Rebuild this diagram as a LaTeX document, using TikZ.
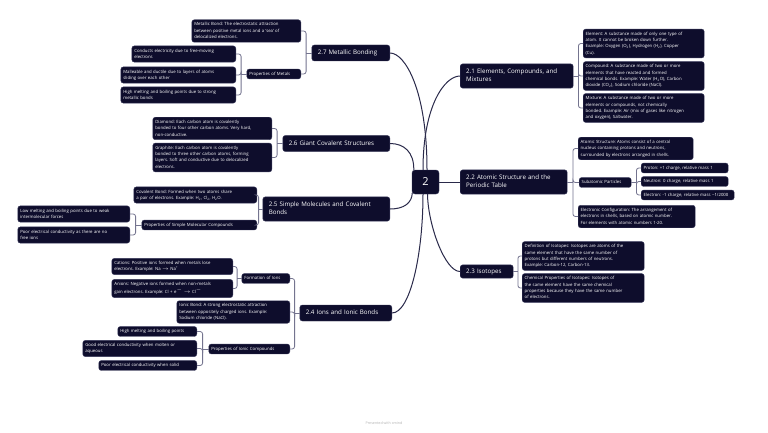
\documentclass[tikz,border=0pt]{standalone}
\usepackage{fontspec}
\setmainfont{Open Sans}
\usetikzlibrary{calc}
\definecolor{nodebg}{HTML}{0E0D2C}
\definecolor{nodeedge}{HTML}{3A3A5C}
\definecolor{mainline}{HTML}{2A2A4A}
\definecolor{brline}{HTML}{74748F}
\frenchspacing
\begin{document}
\begin{tikzpicture}[x=1pt,y=-1pt,
  box/.style={fill=nodebg, draw=nodeedge, line width=0.4pt, rounded corners=2.5pt, text=white, align=left},
  leaf/.style={box, font=\fontsize{4.3}{6.3}\selectfont\frenchspacing, inner xsep=2.5pt, inner ysep=1.8pt, text width=#1,
    execute at begin node=\strut, execute at end node=\strut},
  topic/.style={box, font=\fontsize{6.2}{8.3}\selectfont\frenchspacing, inner xsep=6pt, inner ysep=3.85pt, text width=#1,
    execute at begin node=\strut, execute at end node=\strut},
  ml/.style={draw=mainline, line width=1pt},
  br/.style={draw=brline, line width=0.8pt, rounded corners=2.5pt}
]
\useasboundingbox (0,0) rectangle (768,433);
\fill[white] (0,0) rectangle (768,433);

% center
\node[box, font=\fontsize{11}{13}\selectfont, minimum width=27pt, minimum height=24pt, rounded corners=3pt, align=center, inner sep=0pt] (c) at (425.5,182) {2};

% ---------- left side ----------
\node[topic=66pt, anchor=east] (m27) at (390,53) {2.7 Metallic Bonding};
\node[leaf=104pt, anchor=east] (lmb) at (301,31) {Metallic Bond: The electrostatic attraction\\between positive metal ions and a `sea' of\\delocalized electrons.};
\node[leaf=49pt, anchor=east] (spm) at (301,74) {Properties of Metals};
\node[leaf=99pt, anchor=east] (lce) at (236,54) {Conducts electricity due to free-moving\\electrons};
\node[leaf=110pt, anchor=east] (lma) at (236,75) {Malleable and ductile due to layers of atoms\\sliding over each other};
\node[leaf=110pt, anchor=east] (lhm) at (236,95) {High melting and boiling points due to strong\\metallic bonds};

\node[topic=95pt, anchor=east] (m26) at (390,143.5) {2.6 Giant Covalent Structures};
\node[leaf=114pt, anchor=east] (ldi) at (272,128.5) {Diamond: Each carbon atom is covalently\\bonded to four other carbon atoms. Very hard,\\non-conductive.};
\node[leaf=114pt, anchor=east] (lgr) at (272,157.5) {Graphite: Each carbon atom is covalently\\bonded to three other carbon atoms, forming\\layers. Soft and conductive due to delocalized\\electrons.};

\node[topic=115pt, anchor=east] (m25) at (390,209) {2.5 Simple Molecules and Covalent\\Bonds};
\node[leaf=118pt, anchor=east] (lcb) at (257,195) {Covalent Bond: Formed when two atoms share\\a pair of electrons. Example: H\textsubscript{2}, Cl\textsubscript{2}, H\textsubscript{2}O.};
\node[leaf=110pt, anchor=east] (spsm) at (257,225) {Properties of Simple Molecular Compounds};
\node[leaf=107pt, anchor=east] (llm) at (130,214) {Low melting and boiling points due to weak\\intermolecular forces};
\node[leaf=107pt, anchor=east] (lpe) at (130,235) {Poor electrical conductivity as there are no\\free ions};

\node[topic=80pt, anchor=east] (m24) at (392,313) {2.4 Ions and Ionic Bonds};
\node[leaf=43pt, anchor=east] (sfi) at (290,278.5) {Formation of Ions};
\node[leaf=116pt, anchor=east] (lca) at (233,266.5) {Cations: Positive ions formed when metals lose\\electrons. Example: Na $\rightarrow$ Na\textsuperscript{+}};
\node[leaf=116pt, anchor=east] (lan) at (233,288.5) {Anions: Negative ions formed when non-metals\\gain electrons. Example: Cl + e\textsuperscript{$-$} $\rightarrow$ Cl\textsuperscript{$-$}};
\node[leaf=108pt, anchor=east] (lib) at (290,312) {Ionic Bond: A strong electrostatic attraction\\between oppositely charged ions. Example:\\Sodium chloride (NaCl).};
\node[leaf=76pt, anchor=east] (spic) at (290,349) {Properties of Ionic Compounds};
\node[leaf=74pt, anchor=east] (lhmb) at (197,331.5) {High melting and boiling points};
\node[leaf=109pt, anchor=east] (lgec) at (197,348.5) {Good electrical conductivity when molten or\\aqueous};
\node[leaf=93pt, anchor=east] (lpes) at (197,365.5) {Poor electrical conductivity when solid};

% ---------- right side ----------
\node[topic=101pt, anchor=west] (m21) at (460,76) {2.1 Elements, Compounds, and\\Mixtures};
\node[leaf=116pt, anchor=west] (lel) at (583,43.5) {Element: A substance made of only one type of\\atom. It cannot be broken down further.\\Example: Oxygen (O\textsubscript{2}), Hydrogen (H\textsubscript{2}), Copper\\(Cu).};
\node[leaf=116pt, anchor=west] (lco) at (583,76) {Compound: A substance made of two or more\\elements that have reacted and formed\\chemical bonds. Example: Water (H\textsubscript{2}O), Carbon\\dioxide (CO\textsubscript{2}), Sodium chloride (NaCl).};
\node[leaf=116pt, anchor=west] (lmi) at (583,108) {Mixture: A substance made of two or more\\elements or compounds, not chemically\\bonded. Example: Air (mix of gases like nitrogen\\and oxygen), Saltwater.};

\node[topic=95pt, anchor=west] (m22) at (460,182) {2.2 Atomic Structure and the\\Periodic Table};
\node[leaf=110pt, anchor=west] (las) at (578,148.5) {Atomic Structure: Atoms consist of a central\\nucleus containing protons and neutrons,\\surrounded by electrons arranged in shells.};
\node[leaf=47pt, anchor=west] (ssp) at (579,182.5) {Subatomic Particles};
\node[leaf=82pt, anchor=west] (lpr) at (641,168) {Proton: +1 charge, relative mass 1};
\node[leaf=82pt, anchor=west] (lne) at (641,181.5) {Neutron: 0 charge, relative mass 1};
\node[leaf=88pt, anchor=west] (lelc) at (641,195) {\mbox{Electron: -1 charge, relative mass \textasciitilde1/2000}};
\node[leaf=112pt, anchor=west] (lec) at (578,216.5) {Electronic Configuration: The arrangement of\\electrons in shells, based on atomic number.\\For elements with atomic numbers 1-20.};

\node[topic=41pt, anchor=west, inner ysep=2.5pt] (m23) at (460,271.5) {2.3 Isotopes};
\node[leaf=117pt, anchor=west] (ldf) at (522,256) {Definition of Isotopes: Isotopes are atoms of the\\same element that have the same number of\\protons but different numbers of neutrons.\\Example: Carbon-12, Carbon-13.};
\node[leaf=117pt, anchor=west] (lcp) at (522,288) {Chemical Properties of Isotopes: Isotopes of\\the same element have the same chemical\\properties because they have the same number\\of electrons.};

% ---------- main connectors ----------
\draw[ml] (m27.east) .. controls (405,53) and (427,90) .. ($(c.north)+(1.5,0)$);
\draw[ml] (m21.west) .. controls (445,76) and (423,105) .. ($(c.north)+(-2.5,0)$);
\draw[ml] (m26.east) .. controls (404,143.5) and (414,152) .. ($(c.north west)+(2,0)$);
\draw[ml] (m25.east) .. controls (404,209) and (412,203) .. ($(c.south west)+(0.5,-1.5)$);
\draw[ml] (m24.east) .. controls (410,313) and (423,255) .. ($(c.south)+(-2.5,0)$);
\draw[ml] (m23.west) .. controls (445,271.5) and (428,225) .. ($(c.south)+(2,0)$);
\draw[ml] (c.east) -- (m22.west);

% ---------- brackets ----------
\draw[br] (m27.west) -- ++(-5.5,0) coordinate (b27);
\foreach \n in {lmb,spm} \draw[br] (b27) |- (\n.east);
\draw[br] (spm.west) -- ++(-5.5,0) coordinate (bpm);
\foreach \n in {lce,lma,lhm} \draw[br] (bpm) |- (\n.east);
\draw[br] (m26.west) -- ++(-5.5,0) coordinate (b26);
\foreach \n in {ldi,lgr} \draw[br] (b26) |- (\n.east);
\draw[br] (m25.west) -- ++(-4,0) coordinate (b25);
\foreach \n in {lcb,spsm} \draw[br] (b25) |- (\n.east);
\draw[br] (spsm.west) -- ++(-6,0) coordinate (bsm);
\foreach \n in {llm,lpe} \draw[br] (bsm) |- (\n.east);
\draw[br] (m24.west) -- ++(-5,0) coordinate (b24);
\foreach \n in {sfi,lib,spic} \draw[br] (b24) |- (\n.east);
\draw[br] (sfi.west) -- ++(-4.5,0) coordinate (bfi);
\foreach \n in {lca,lan} \draw[br] (bfi) |- (\n.east);
\draw[br] (spic.west) -- ++(-6,0) coordinate (bic);
\foreach \n in {lhmb,lgec,lpes} \draw[br] (bic) |- (\n.east);

\draw[br] (m21.east) -- ++(5,0) coordinate (b21);
\foreach \n in {lel,lco,lmi} \draw[br] (b21) |- (\n.west);
\draw[br] (m22.east) -- ++(5.5,0) coordinate (b22);
\foreach \n in {las,ssp,lec} \draw[br] (b22) |- (\n.west);
\draw[br] (ssp.east) -- ++(5,0) coordinate (bsp);
\foreach \n in {lpr,lne,lelc} \draw[br] (bsp) |- (\n.west);
\draw[br] (m23.east) -- ++(4.5,0) coordinate (b23);
\foreach \n in {ldf,lcp} \draw[br] (b23) |- (\n.west);

% footer
\node[font=\fontsize{3.6}{4}\selectfont, text=black!30] (ft) at (384,423) {Presented with xmind};
\end{tikzpicture}
\end{document}
